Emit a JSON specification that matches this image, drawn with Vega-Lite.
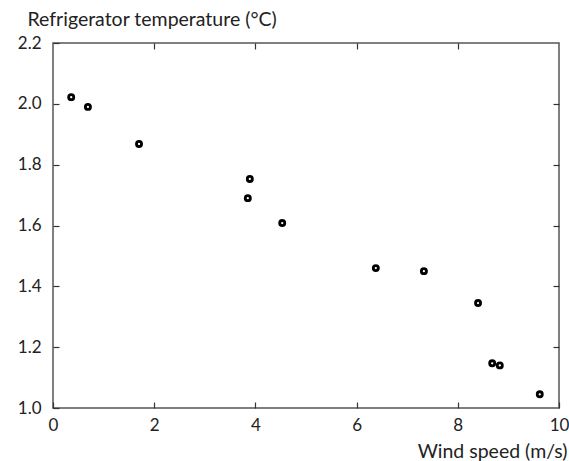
{
  "$schema": "https://vega.github.io/schema/vega-lite/v6.json",
  "autosize": "none",
  "padding": {"left": 53, "top": 43, "right": 10, "bottom": 53},
  "width": 506,
  "height": 365,
  "background": "white",
  "config": {
    "view": {"stroke": "#555", "strokeWidth": 1.5},
    "font": "Lato",
    "axis": {
      "domain": false,
      "grid": false,
      "tickColor": "#333",
      "tickSize": -6,
      "tickWidth": 1.2,
      "labelFont": "Lato",
      "labelFontSize": 17,
      "labelColor": "#222",
      "titleFont": "Lato",
      "titleFontSize": 19.5,
      "titleFontWeight": "normal",
      "titleColor": "#222"
    }
  },
  "data": {
    "values": [
      {"wind": 0.36, "temp": 2.022},
      {"wind": 0.69, "temp": 1.99},
      {"wind": 1.70, "temp": 1.868},
      {"wind": 3.89, "temp": 1.753},
      {"wind": 3.85, "temp": 1.69},
      {"wind": 4.53, "temp": 1.608},
      {"wind": 6.38, "temp": 1.46},
      {"wind": 7.33, "temp": 1.45},
      {"wind": 8.40, "temp": 1.345},
      {"wind": 8.68, "temp": 1.147},
      {"wind": 8.83, "temp": 1.14},
      {"wind": 9.62, "temp": 1.045}
    ]
  },
  "resolve": {"axis": {"x": "independent", "y": "independent"}},
  "layer": [
    {
      "mark": {"type": "point", "filled": false, "stroke": "black", "strokeWidth": 2.8, "size": 26, "opacity": 1},
      "encoding": {
        "x": {
          "field": "wind", "type": "quantitative",
          "scale": {"domain": [0, 10], "nice": false, "zero": false},
          "axis": {
            "values": [0, 2, 4, 6, 8, 10],
            "labelPadding": 15,
            "labelFlush": false,
            "title": "Wind speed (m/s)",
            "titleAnchor": "end",
            "titleAlign": "right",
            "titleBaseline": "alphabetic",
            "titleX": 514,
            "titleY": 49
          }
        },
        "y": {
          "field": "temp", "type": "quantitative",
          "scale": {"domain": [1.0, 2.2], "nice": false, "zero": false},
          "axis": {
            "values": [1.0, 1.2, 1.4, 1.6, 1.8, 2.0, 2.2],
            "format": ".1f",
            "labelPadding": 18,
            "labelFlush": false,
            "title": "Refrigerator temperature (°C)",
            "titleAngle": 0,
            "titleAlign": "left",
            "titleAnchor": "start",
            "titleBaseline": "alphabetic",
            "titleX": -26,
            "titleY": -18
          }
        }
      }
    },
    {
      "mark": {"type": "point", "opacity": 0},
      "encoding": {
        "x": {
          "field": "wind", "type": "quantitative",
          "axis": {"orient": "top", "values": [2, 4, 6, 8], "labels": false, "title": null}
        },
        "y": {
          "field": "temp", "type": "quantitative",
          "axis": {"orient": "right", "values": [1.2, 1.4, 1.6, 1.8, 2.0], "labels": false, "title": null}
        }
      }
    }
  ]
}
